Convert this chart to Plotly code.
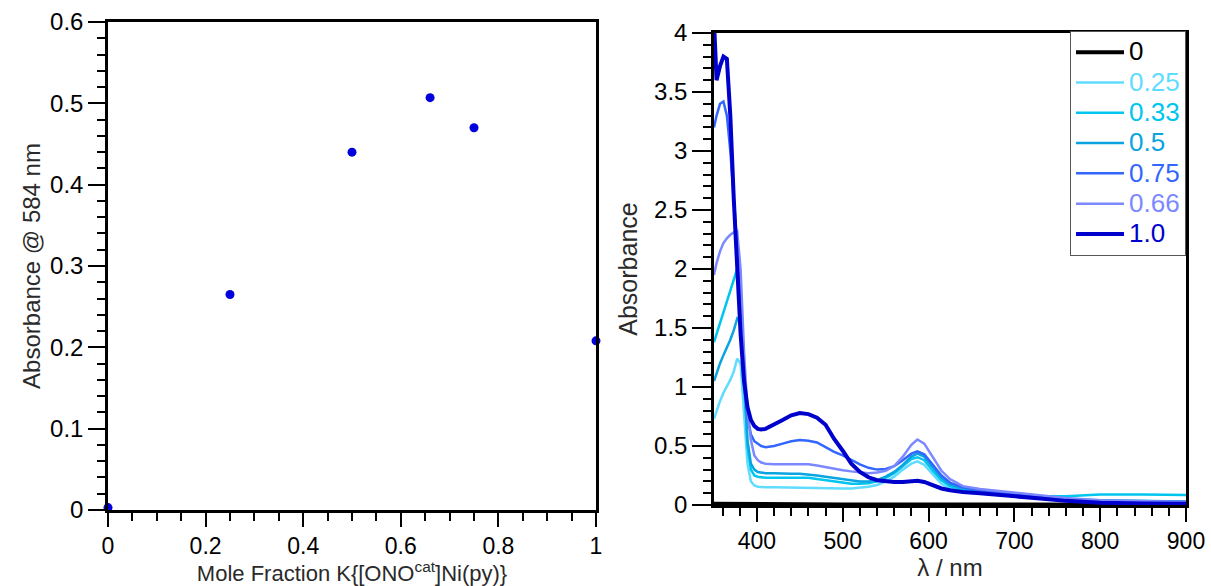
import plotly.graph_objects as go

# ---- Job plot: absorbance at 584 nm versus mole fraction ----
mole_fraction = [0.0, 0.25, 0.5, 0.66, 0.75, 1.0]
abs_584 = [0.003, 0.265, 0.440, 0.507, 0.470, 0.208]

# ---- UV-vis spectra of the mixtures ----
wavelength = [350, 353, 357, 361, 365, 369, 373, 377, 381, 385, 389, 393, 397,
              401, 405, 410, 420, 430, 440, 450, 460, 470, 480, 490, 500, 510,
              520, 530, 540, 550, 560, 570, 580, 587, 595, 605, 615, 625, 640,
              660, 680, 700, 730, 760, 800, 850, 900]

wavelength_blank = [350, 400, 500, 600, 700, 800, 900]
spec_0 = [0.010, 0.006, 0.004, 0.005, 0.003, 0.002, 0.002]

spec_025 = [0.73, 0.80, 0.88, 0.95, 1.00, 1.06, 1.13, 1.24, 1.20, 0.75, 0.35, 0.20, 0.165,
            0.155, 0.150, 0.150, 0.150, 0.148, 0.147, 0.146, 0.145, 0.143, 0.142, 0.141, 0.140, 0.140,
            0.145, 0.155, 0.170, 0.200, 0.240, 0.300, 0.350, 0.370, 0.340, 0.260, 0.180, 0.140, 0.110,
            0.095, 0.085, 0.075, 0.060, 0.045, 0.035, 0.030, 0.030]

spec_033 = [1.38, 1.45, 1.55, 1.63, 1.72, 1.82, 1.92, 2.00, 1.85, 1.10, 0.50, 0.30, 0.25,
            0.240, 0.235, 0.230, 0.230, 0.230, 0.235, 0.235, 0.230, 0.220, 0.210, 0.195, 0.185, 0.180,
            0.180, 0.185, 0.200, 0.230, 0.270, 0.330, 0.390, 0.405, 0.380, 0.290, 0.210, 0.160, 0.130,
            0.110, 0.095, 0.085, 0.075, 0.075, 0.088, 0.090, 0.085]

spec_05 = [1.05, 1.12, 1.20, 1.27, 1.33, 1.40, 1.48, 1.58, 1.55, 1.00, 0.55, 0.35, 0.30,
           0.280, 0.275, 0.270, 0.270, 0.265, 0.265, 0.265, 0.260, 0.250, 0.240, 0.230, 0.220, 0.210,
           0.200, 0.200, 0.210, 0.240, 0.280, 0.340, 0.410, 0.435, 0.410, 0.320, 0.230, 0.175, 0.140,
           0.120, 0.105, 0.090, 0.070, 0.050, 0.040, 0.035, 0.030]

spec_075 = [3.20, 3.30, 3.40, 3.42, 3.30, 3.00, 2.60, 2.20, 1.60, 1.10, 0.75, 0.60, 0.54,
            0.520, 0.500, 0.490, 0.500, 0.520, 0.540, 0.550, 0.545, 0.530, 0.490, 0.450, 0.420, 0.380,
            0.345, 0.315, 0.300, 0.305, 0.330, 0.380, 0.435, 0.455, 0.430, 0.340, 0.250, 0.190, 0.150,
            0.125, 0.110, 0.090, 0.070, 0.050, 0.030, 0.025, 0.025]

spec_066 = [1.95, 2.05, 2.15, 2.22, 2.26, 2.29, 2.31, 2.32, 2.00, 1.30, 0.80, 0.55, 0.42,
            0.380, 0.360, 0.350, 0.345, 0.345, 0.350, 0.350, 0.345, 0.335, 0.320, 0.305, 0.295, 0.285,
            0.275, 0.270, 0.275, 0.290, 0.330, 0.410, 0.510, 0.555, 0.520, 0.400, 0.290, 0.220, 0.160,
            0.135, 0.120, 0.105, 0.080, 0.060, 0.040, 0.030, 0.025]

spec_10 = [4.10, 3.60, 3.72, 3.80, 3.78, 3.30, 2.60, 1.95, 1.45, 1.05, 0.83, 0.72, 0.67,
           0.645, 0.640, 0.645, 0.680, 0.720, 0.760, 0.780, 0.770, 0.740, 0.680, 0.560, 0.460, 0.350,
           0.280, 0.235, 0.210, 0.200, 0.195, 0.195, 0.200, 0.205, 0.195, 0.165, 0.140, 0.125, 0.110,
           0.100, 0.085, 0.070, 0.055, 0.035, 0.020, 0.012, 0.010]

legend_labels = ["0", "0.25", "0.33", "0.5", "0.75", "0.66", "1.0"]
series_colors = ["#000000", "#5fdcff", "#00c6ef", "#0aa4e0", "#3366ff", "#7b88ff", "#0000cc"]
series_widths = [4, 2.5, 2.5, 2.5, 2.5, 2.5, 4]

W, H = 1211, 586
FONT = "Liberation Sans, Arial, Helvetica, sans-serif"
TITLE_COLOR = "#2a2a2a"


def dom(a, b, total):
    return [a / total, b / total]


fig = go.Figure()

# Left panel: scatter points
fig.add_trace(go.Scatter(
    x=mole_fraction, y=abs_584, mode="markers",
    marker=dict(color="#0000dd", size=9),
    cliponaxis=False, showlegend=False,
    xaxis="x", yaxis="y",
))

# Right panel: spectra
spectra = [spec_0, spec_025, spec_033, spec_05, spec_075, spec_066, spec_10]
for label, ys, col, lw in zip(legend_labels, spectra, series_colors, series_widths):
    xs = wavelength_blank if ys is spec_0 else wavelength
    fig.add_trace(go.Scatter(
        x=xs, y=ys, mode="lines",
        line=dict(color=col, width=lw),
        name=f"<span style='color:{col};font-size:26px'>{label}</span>",
        xaxis="x2", yaxis="y2",
    ))

axis_common = dict(
    showline=True, linecolor="black", linewidth=2.5, mirror=True,
    ticks="outside", tickcolor="black", tickwidth=2,
    showgrid=False, zeroline=False, automargin=False,
)
minor_common = dict(ticklen=8, tickwidth=2, ticks="outside", tickcolor="black")
tick_y = dict(family=FONT, size=24, color="black")
tick_x = dict(family=FONT, size=23, color="black")

fig.update_layout(
    width=W, height=H,
    margin=dict(l=0, r=0, t=0, b=0),
    paper_bgcolor="white", plot_bgcolor="white",
    font=dict(family=FONT, color=TITLE_COLOR),
    xaxis=dict(
        domain=dom(108, 596, W), range=[0, 1], dtick=0.2, ticklen=14,
        minor=dict(dtick=0.05, **minor_common), tickfont=tick_x,
        title=dict(text="Mole Fraction K{[ONO<sup>cat</sup>]Ni(py)}",
                   font=dict(family=FONT, size=22, color=TITLE_COLOR), standoff=5),
        anchor="y", **axis_common,
    ),
    yaxis=dict(
        domain=[1 - 510 / H, 1 - 22 / H], range=[0, 0.6], dtick=0.1, ticklen=17,
        tickformat="~g", tickfont=tick_y,
        minor=dict(dtick=0.02, **minor_common),
        title=dict(text="Absorbance @ 584 nm",
                   font=dict(family=FONT, size=24, color=TITLE_COLOR), standoff=3),
        anchor="x", **axis_common,
    ),
    xaxis2=dict(
        domain=dom(714, 1186, W), range=[350, 900], tick0=400, dtick=100, ticklen=14,
        minor=dict(dtick=20, **minor_common), tickfont=tick_x,
        title=dict(text="λ / nm", font=dict(family=FONT, size=24, color=TITLE_COLOR), standoff=6),
        anchor="y2", **axis_common,
    ),
    yaxis2=dict(
        domain=[1 - 505 / H, 1 - 33 / H], range=[0, 4], dtick=0.5, ticklen=19,
        tickformat="~g", tickfont=tick_y,
        minor=dict(dtick=0.1, **minor_common),
        title=dict(text="Absorbance", font=dict(family=FONT, size=25, color=TITLE_COLOR), standoff=10),
        anchor="x2", **axis_common,
    ),
    legend=dict(
        x=1186 / W, xanchor="right", y=1 - 31 / H, yanchor="top",
        bgcolor="white", bordercolor="#555555", borderwidth=1,
        font=dict(family=FONT, size=21),
        itemwidth=48, tracegroupgap=0,
    ),
)

fig.write_html("out.html")
